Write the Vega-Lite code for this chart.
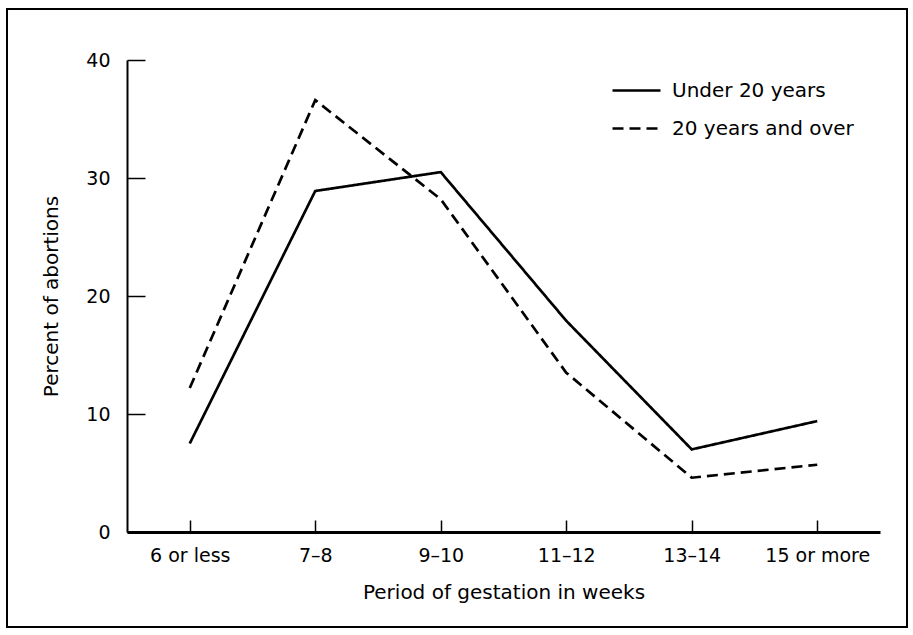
{
  "$schema": "https://vega.github.io/schema/vega-lite/v6.json",
  "width": 900,
  "height": 618,
  "autosize": "none",
  "padding": {"left": 7, "top": 9, "right": 6, "bottom": 8},
  "background": "white",
  "config": {
    "view": {"stroke": "black", "strokeWidth": 2},
    "font": "DejaVu Sans"
  },
  "data": {
    "values": [
      {"period": "6 or less", "group": "Under 20 years", "percent": 7.5},
      {"period": "7–8", "group": "Under 20 years", "percent": 28.9},
      {"period": "9–10", "group": "Under 20 years", "percent": 30.5},
      {"period": "11–12", "group": "Under 20 years", "percent": 17.9},
      {"period": "13–14", "group": "Under 20 years", "percent": 7.0},
      {"period": "15 or more", "group": "Under 20 years", "percent": 9.4},
      {"period": "6 or less", "group": "20 years and over", "percent": 12.2},
      {"period": "7–8", "group": "20 years and over", "percent": 36.6},
      {"period": "9–10", "group": "20 years and over", "percent": 28.2},
      {"period": "11–12", "group": "20 years and over", "percent": 13.5},
      {"period": "13–14", "group": "20 years and over", "percent": 4.6},
      {"period": "15 or more", "group": "20 years and over", "percent": 5.7}
    ]
  },
  "mark": {"type": "line", "strokeWidth": 2.7, "color": "black"},
  "encoding": {
    "x": {
      "field": "period",
      "type": "ordinal",
      "sort": ["6 or less", "7–8", "9–10", "11–12", "13–14", "15 or more"],
      "scale": {"type": "point", "range": [120, 873], "padding": 0.5},
      "axis": {
        "title": "Period of gestation in weeks",
        "titleFontSize": 20,
        "titleFontWeight": "normal",
        "titleColor": "black",
        "titlePadding": 17,
        "labelFontSize": 19,
        "labelColor": "black",
        "labelAngle": 0,
        "labelPadding": 26,
        "domainColor": "black",
        "domainWidth": 3,
        "tickColor": "black",
        "tickWidth": 1.5,
        "tickSize": -12,
        "offset": -95,
        "grid": false
      }
    },
    "y": {
      "field": "percent",
      "type": "quantitative",
      "scale": {"domain": [0, 40], "range": [523, 51]},
      "axis": {
        "title": "Percent of abortions",
        "titleFontSize": 20,
        "titleFontWeight": "normal",
        "titleColor": "black",
        "titlePadding": 24,
        "values": [0, 10, 20, 30, 40],
        "labelFontSize": 19,
        "labelColor": "black",
        "labelPadding": 35,
        "domainColor": "black",
        "domainWidth": 2,
        "tickColor": "black",
        "tickWidth": 1.5,
        "tickSize": -18,
        "offset": -120,
        "grid": false
      }
    },
    "strokeDash": {
      "field": "group",
      "type": "nominal",
      "scale": {"domain": ["Under 20 years", "20 years and over"], "range": [[1, 0], [11, 6]]},
      "legend": {
        "title": null,
        "orient": "none",
        "legendX": 604,
        "legendY": 56,
        "padding": 0,
        "symbolType": "stroke",
        "symbolSize": 2304,
        "symbolStrokeWidth": 2.5,
        "symbolStrokeColor": "black",
        "labelFontSize": 20,
        "labelColor": "black",
        "labelOffset": 10,
        "labelLimit": 0,
        "rowPadding": 2
      }
    }
  }
}
